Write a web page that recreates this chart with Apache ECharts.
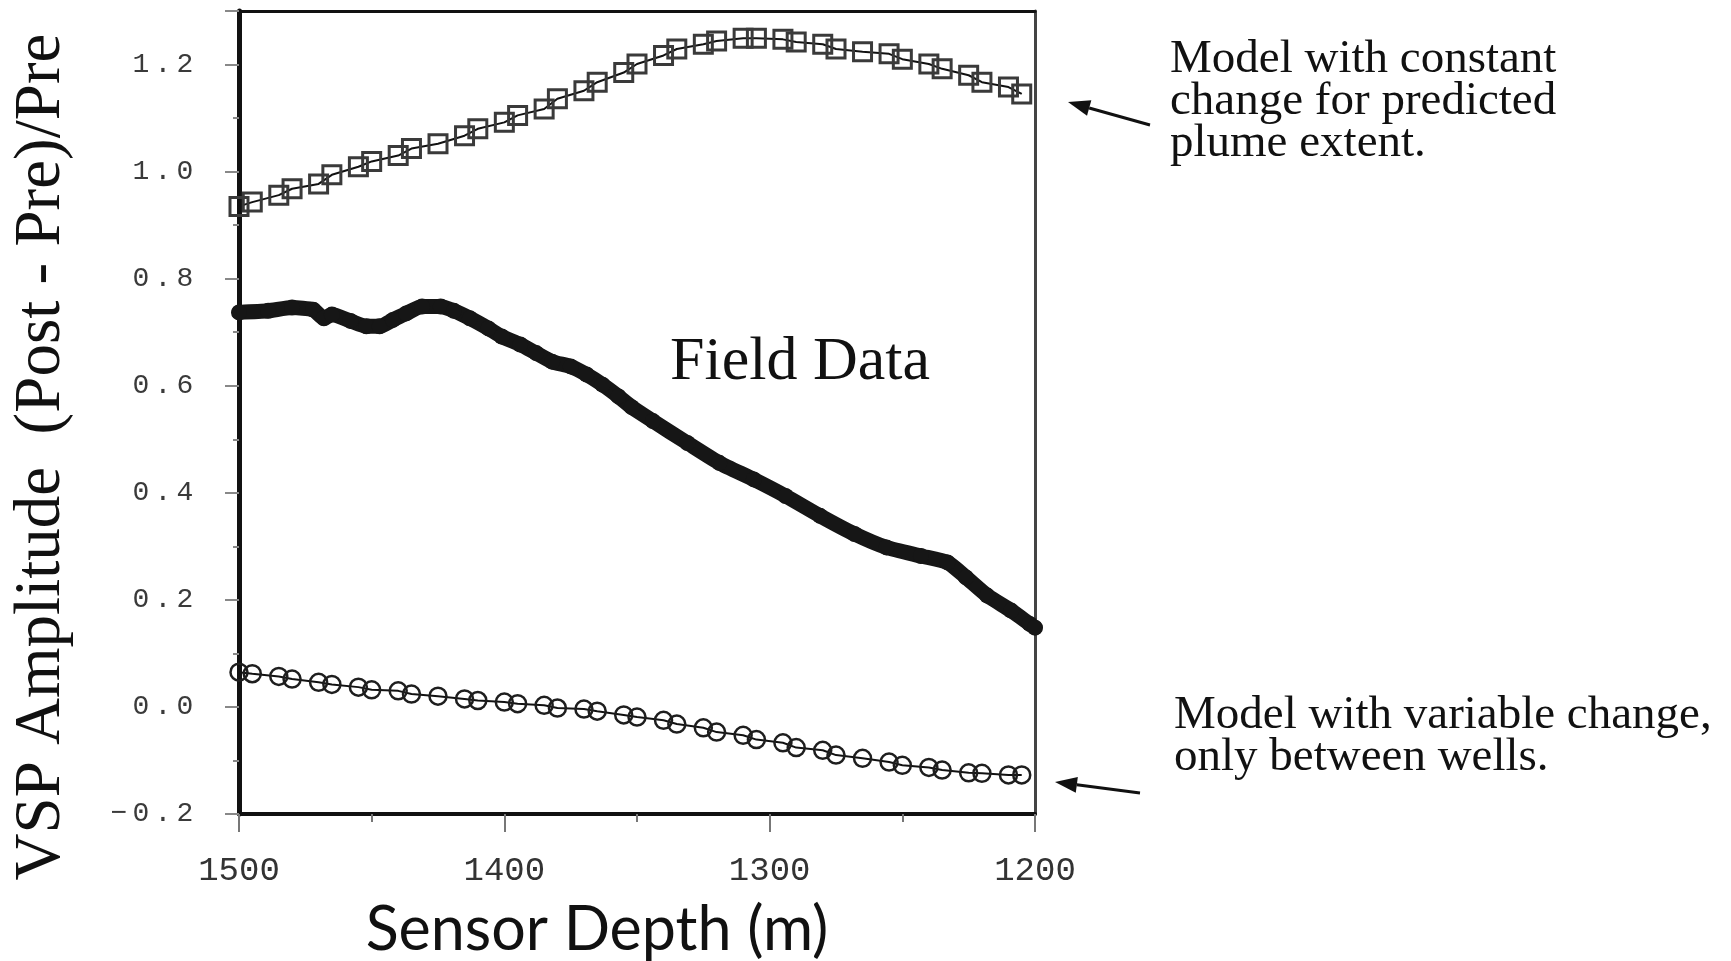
<!DOCTYPE html>
<html>
<head>
<meta charset="utf-8">
<title>VSP Amplitude vs Sensor Depth</title>
<script src="https://cdn.jsdelivr.net/npm/echarts@6/dist/echarts.min.js"></script>
<style>
  html, body { margin: 0; padding: 0; background: #ffffff; }
  #chart { width: 1731px; height: 961px; }
</style>
</head>
<body>
<div id="chart"></div>
<script>
// Sensor depths (m) shared by both model curves
const modelDepths = [1500, 1495, 1485, 1480, 1470, 1465, 1455, 1450, 1440, 1435,
  1425, 1415, 1410, 1400, 1395, 1385, 1380, 1370, 1365, 1355,
  1350, 1340, 1335, 1325, 1320, 1310, 1305, 1295, 1290, 1280,
  1275, 1265, 1255, 1250, 1240, 1235, 1225, 1220, 1210, 1205];

// Model with constant change for predicted plume extent
const constantChange = [0.935, 0.943, 0.956, 0.968, 0.977, 0.994, 1.009, 1.019, 1.030, 1.043,
  1.052, 1.067, 1.080, 1.092, 1.105, 1.117, 1.136, 1.151, 1.167, 1.185,
  1.201, 1.217, 1.229, 1.238, 1.244, 1.249, 1.249, 1.247, 1.242, 1.238,
  1.229, 1.224, 1.220, 1.210, 1.201, 1.192, 1.180, 1.167, 1.158, 1.145];

// Model with variable change, only between wells
const variableChange = [0.065, 0.062, 0.057, 0.052, 0.046, 0.042, 0.037, 0.032, 0.030, 0.024,
  0.020, 0.015, 0.012, 0.009, 0.006, 0.003, -0.002, -0.004, -0.008, -0.015,
  -0.019, -0.025, -0.032, -0.039, -0.047, -0.053, -0.061, -0.067, -0.076, -0.081,
  -0.090, -0.096, -0.103, -0.109, -0.113, -0.118, -0.123, -0.124, -0.127, -0.127];

// Field data
const fieldDepths = [1500, 1489, 1480, 1472, 1468, 1465, 1458, 1452, 1447, 1442,
  1437, 1431, 1424, 1419, 1413, 1406, 1401, 1394, 1388, 1382,
  1375, 1369, 1363, 1357, 1352, 1344, 1331, 1319, 1306, 1294,
  1281, 1268, 1256, 1243, 1233, 1226, 1218, 1209, 1202, 1200];
const fieldValues = [0.737, 0.740, 0.746, 0.742, 0.726, 0.733, 0.721, 0.711, 0.711, 0.723,
  0.735, 0.748, 0.748, 0.740, 0.726, 0.707, 0.692, 0.677, 0.661, 0.645,
  0.636, 0.621, 0.602, 0.580, 0.560, 0.534, 0.493, 0.456, 0.425, 0.394,
  0.357, 0.323, 0.298, 0.282, 0.270, 0.242, 0.208, 0.180, 0.155, 0.148];

// Tick labels
const amplitudeTicks = [-0.2, 0.0, 0.2, 0.4, 0.6, 0.8, 1.0, 1.2];
const depthTicks = [1500, 1400, 1300, 1200];

const pairs = (xs, ys) => xs.map((x, i) => [x, ys[i]]);

// Each character of an amplitude label sits in its own fixed-width cell
function amplitudeLabel(v) {
  const hit = amplitudeTicks.find(t => Math.abs(t - v) < 1e-6);
  if (hit === undefined) return '';
  const s = hit.toFixed(1).replace('-', '\u2212');
  return s.split('').map(ch => '{c|' + ch + '}').join('');
}
function depthLabel(v) {
  return depthTicks.indexOf(Math.round(v)) >= 0 ? String(Math.round(v)) : '';
}

// Arrow built from a shaft line and a filled head
function arrow(x1, y1, x2, y2) {
  const dx = x2 - x1, dy = y2 - y1;
  const len = Math.sqrt(dx * dx + dy * dy);
  const ux = dx / len, uy = dy / len;
  const hl = 22, hw = 8;
  const bx = x2 - ux * hl, by = y2 - uy * hl;
  return [
    { type: 'line', shape: { x1: x1, y1: y1, x2: bx, y2: by },
      style: { stroke: '#111', lineWidth: 3 } },
    { type: 'polygon',
      shape: { points: [[x2, y2], [bx - uy * hw, by + ux * hw], [bx + uy * hw, by - ux * hw]] },
      style: { fill: '#111' } }
  ];
}

const serif = '"Liberation Serif", "Times New Roman", serif';

const chart = echarts.init(document.getElementById('chart'), null, { renderer: 'canvas' });

chart.setOption({
  backgroundColor: '#ffffff',
  animation: false,
  grid: { left: 239, right: 696, top: 11, bottom: 147, outerBoundsMode: 'none', containLabel: false },
  xAxis: [{
    type: 'value',
    min: 1200, max: 1500, interval: 100,
    inverse: true,
    position: 'bottom',
    name: 'Sensor Depth (m)',
    nameLocation: 'middle',
    nameGap: 86,
    nameTextStyle: { fontFamily: 'Lato', fontSize: 61, color: '#111', padding: [0, 80, 0, 0] },
    axisLine: { onZero: false, lineStyle: { color: '#111', width: 4 } },
    axisTick: { show: true, length: 18, lineStyle: { color: '#777', width: 2 } },
    minorTick: { show: true, splitNumber: 2, length: 8, lineStyle: { color: '#777', width: 2 } },
    axisLabel: { formatter: depthLabel, margin: 40, fontFamily: '"Liberation Mono", monospace',
      fontSize: 34, color: '#333' },
    splitLine: { show: false }
  }, {
    type: 'value',
    min: 1200, max: 1500,
    inverse: true,
    position: 'top',
    axisLine: { onZero: false, lineStyle: { color: '#111', width: 3 } },
    axisTick: { show: false }, axisLabel: { show: false }, splitLine: { show: false }
  }],
  yAxis: [{
    type: 'value',
    min: -0.2, max: 1.3, interval: 0.2,
    position: 'left',
    axisLine: { onZero: false, lineStyle: { color: '#111', width: 5 } },
    axisTick: { show: true, length: 14, lineStyle: { color: '#888', width: 2 } },
    minorTick: { show: true, splitNumber: 2, length: 6, lineStyle: { color: '#888', width: 2 } },
    axisLabel: {
      formatter: amplitudeLabel,
      margin: 43,
      rich: {
        c: { width: 22, align: 'center', fontFamily: '"Liberation Mono", monospace',
          fontSize: 28, color: '#3a3a3a' }
      }
    },
    splitLine: { show: false }
  }, {
    type: 'value',
    min: -0.2, max: 1.3,
    position: 'right',
    axisLine: { onZero: false, lineStyle: { color: '#444', width: 3 } },
    axisTick: { show: false }, axisLabel: { show: false }, splitLine: { show: false }
  }],
  series: [{
    name: 'Field Data',
    type: 'line',
    data: pairs(fieldDepths, fieldValues),
    smooth: 0.2,
    symbol: 'circle',
    symbolSize: 16,
    itemStyle: { color: '#161616' },
    lineStyle: { color: '#161616', width: 15, cap: 'round', join: 'round' },
    z: 3
  }, {
    name: 'Model with constant change',
    type: 'line',
    data: pairs(modelDepths, constantChange),
    symbol: 'rect',
    symbolSize: 18,
    itemStyle: { color: 'rgba(255,255,255,0)', borderColor: '#3a3a3a', borderWidth: 3 },
    lineStyle: { color: '#111', width: 2 },
    z: 4
  }, {
    name: 'Model with variable change',
    type: 'line',
    data: pairs(modelDepths, variableChange),
    symbol: 'circle',
    symbolSize: 17,
    itemStyle: { color: 'rgba(255,255,255,0)', borderColor: '#1e1e1e', borderWidth: 2.5 },
    lineStyle: { color: '#111', width: 2 },
    z: 4
  }],
  graphic: [
    // vertical axis title
    { type: 'text', x: 42, y: 457, rotation: Math.PI / 2, z: 10,
      style: { text: 'VSP Amplitude  (Post - Pre)/Pre', font: '65px ' + serif, fill: '#111',
        align: 'center', verticalAlign: 'middle' } },
    { type: 'text', left: 670, top: 332, z: 10,
      style: { text: 'Field Data', font: '62px ' + serif, fill: '#111' } },
    { type: 'text', left: 1170, top: 36, z: 10,
      style: { text: 'Model with constant\nchange for predicted\nplume extent.',
        font: '47px ' + serif, lineHeight: 42, fill: '#111' } },
    { type: 'text', left: 1174, top: 692, z: 10,
      style: { text: 'Model with variable change,\nonly between wells.',
        font: '47px ' + serif, lineHeight: 42, fill: '#111' } }
  ].concat(arrow(1150, 125, 1068, 102), arrow(1140, 793, 1055, 782))
});
</script>
</body>
</html>
